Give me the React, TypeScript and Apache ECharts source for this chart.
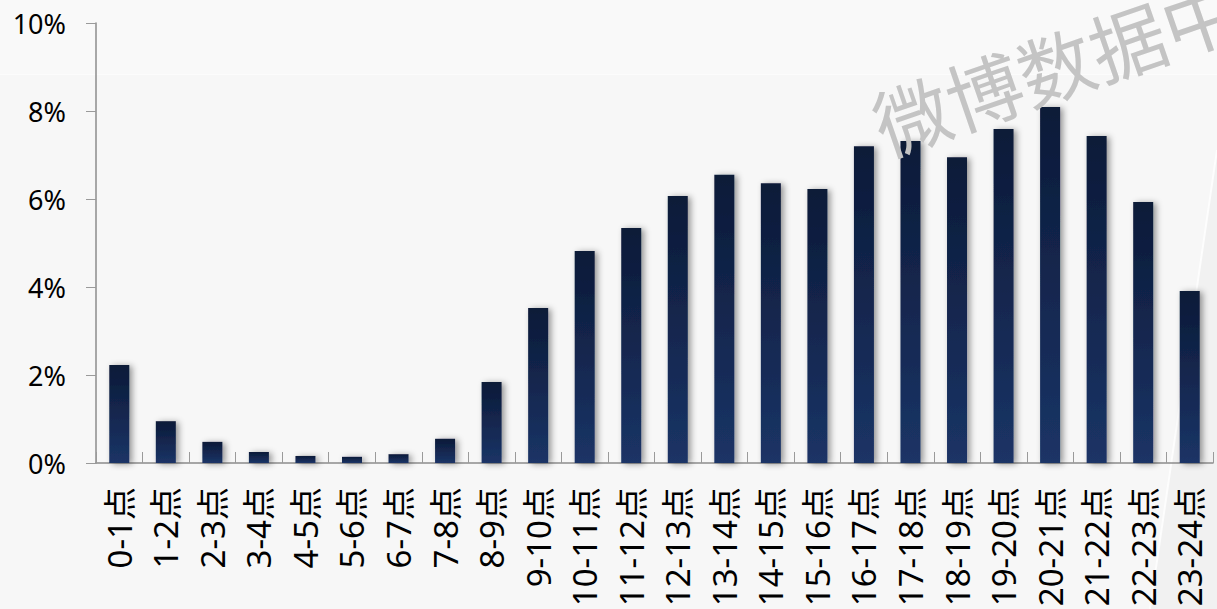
import React, { useEffect, useRef } from "react";
import * as echarts from "echarts";

// Hour-of-day slots
const hours = [
  "0-1点", "1-2点", "2-3点", "3-4点", "4-5点", "5-6点", "6-7点", "7-8点",
  "8-9点", "9-10点", "10-11点", "11-12点", "12-13点", "13-14点", "14-15点", "15-16点",
  "16-17点", "17-18点", "18-19点", "19-20点", "20-21点", "21-22点", "22-23点", "23-24点",
];

// Share of activity per hour slot, in percent
const shares = [
  2.23, 0.95, 0.48, 0.25, 0.16, 0.14, 0.2, 0.55,
  1.84, 3.52, 4.82, 5.34, 6.07, 6.55, 6.36, 6.23,
  7.2, 7.32, 6.95, 7.59, 8.09, 7.43, 5.93, 3.91,
];

// Value axis
const yMin = 0;
const yMax = 10;
const yStep = 2;

const watermark = "微博数据中";

export default function App() {
  const ref = useRef<HTMLDivElement>(null);

  useEffect(() => {
    document.body.style.margin = "0";
    const chart = echarts.init(ref.current!, null, { renderer: "svg" });
    chart.setOption({
      animation: false,
      backgroundColor: "#f7f7f7",
      grid: {
        left: 96,
        right: 4,
        top: 23,
        bottom: 146,
        containLabel: false,
        outerBoundsMode: "none",
      },
      graphic: [
        { type: "rect", shape: { x: 0, y: 0, width: 1217, height: 74 }, style: { fill: "#f9f9f9" }, z: -10, silent: true },
        { type: "rect", shape: { x: 0, y: 74, width: 1217, height: 1 }, style: { fill: "#fcfcfc" }, z: -10, silent: true },
        {
          type: "polygon",
          shape: { points: [[1217, 150], [1217, 609], [1150, 609]] },
          style: { fill: "rgba(0,0,0,0.025)" },
          z: -9,
          silent: true,
        },
        {
          type: "line",
          shape: { x1: 1217, y1: 150, x2: 1150, y2: 609 },
          style: { stroke: "rgba(255,255,255,0.8)", lineWidth: 2 },
          z: -9,
          silent: true,
        },
        {
          type: "text",
          x: 1055,
          y: 64,
          rotation: (19 * Math.PI) / 180,
          style: {
            text: watermark,
            fill: "#c4c4c4",
            font: '76px "Noto Sans CJK SC"',
            align: "center",
            verticalAlign: "middle",
          },
          z: 100,
          silent: true,
        },
      ],
      xAxis: {
        type: "category",
        data: hours,
        boundaryGap: true,
        axisLine: { show: true, lineStyle: { color: "#8c8c8c", width: 1.5 } },
        axisTick: { show: true, inside: true, length: 11, interval: 0, lineStyle: { color: "#9a9a9a", width: 1 } },
        axisLabel: {
          interval: 0,
          rotate: 90,
          margin: 24,
          color: "#000",
          fontSize: 33,
          fontFamily: '"Noto Sans", "Noto Sans CJK SC", sans-serif',
          padding: [14, 0, 0, 0],
        },
        splitLine: { show: false },
      },
      yAxis: {
        type: "value",
        min: yMin,
        max: yMax,
        interval: yStep,
        axisLine: { show: true, lineStyle: { color: "#8c8c8c", width: 1.5 } },
        axisTick: { show: true, length: 10, lineStyle: { color: "#9a9a9a" } },
        axisLabel: {
          formatter: "{value}%",
          margin: 30,
          color: "#000",
          fontSize: 27,
          fontFamily: '"Noto Sans", sans-serif',
        },
        splitLine: { show: false },
      },
      series: [
        {
          type: "bar",
          data: shares,
          barWidth: 20,
          itemStyle: {
            color: new echarts.graphic.LinearGradient(0, 0, 0, 1, [
              { offset: 0, color: "#0c1a38" },
              { offset: 1, color: "#1b3466" },
            ]),
            shadowColor: "rgba(0,0,0,0.4)",
            shadowBlur: 6,
            shadowOffsetX: 3,
            shadowOffsetY: 1,
          },
        },
      ],
    });
    return () => chart.dispose();
  }, []);

  return <div ref={ref} style={{ width: 1217, height: 609 }} />;
}
